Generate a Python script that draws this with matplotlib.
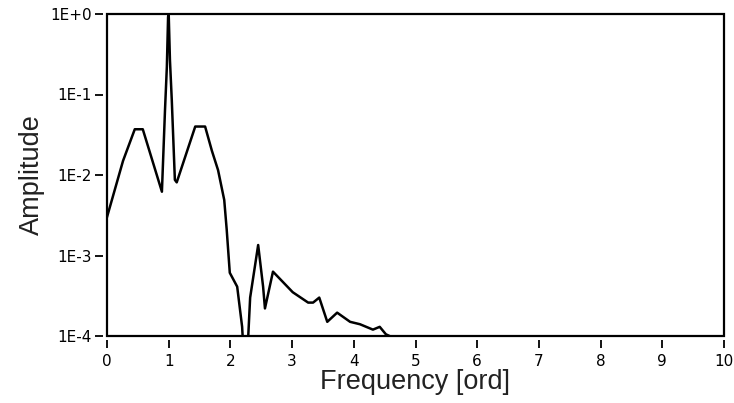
import numpy as np
import matplotlib.pyplot as plt
from matplotlib.ticker import FixedLocator, FixedFormatter, NullLocator

# spectrum (values below 1E-4 are clipped by the axis)
freq = [0.0, 0.26, 0.45, 0.58, 0.89, 0.94, 0.97, 0.99, 1.0, 1.02, 1.05, 1.10, 1.13,
        1.43, 1.59, 1.70, 1.80, 1.90, 1.94, 1.99, 2.11, 2.19, 2.22, 2.27, 2.32,
        2.45, 2.53, 2.56, 2.69, 3.01, 3.26, 3.34, 3.44, 3.57, 3.73, 3.94, 4.10,
        4.31, 4.42, 4.52, 4.64, 4.72]
amp = [3.0e-3, 1.5e-2, 3.7e-2, 3.7e-2, 6.2e-3, 6.4e-2, 2.2e-1, 9.2e-1, 1.0, 2.7e-1,
       8.5e-2, 8.7e-3, 8.1e-3, 4.0e-2, 4.0e-2, 2.0e-2, 1.15e-2, 4.9e-3, 2.1e-3,
       6.1e-4, 4.1e-4, 1.3e-4, 5e-5, 5e-5, 3.0e-4, 1.35e-3, 4.1e-4, 2.2e-4, 6.3e-4,
       3.5e-4, 2.6e-4, 2.6e-4, 3.0e-4, 1.5e-4, 1.95e-4, 1.5e-4, 1.4e-4, 1.2e-4,
       1.3e-4, 1.05e-4, 9.5e-5, 5e-5]

yticks = [1e-4, 1e-3, 1e-2, 1e-1, 1e0]
ylabels = ['1E-4', '1E-3', '1E-2', '1E-1', '1E+0']
xticks = list(range(0, 11))

fig = plt.figure(figsize=(7.34, 4.03), dpi=100)
ax = fig.add_axes([107/734, 1 - 336/403, (724 - 107)/734, (336 - 14)/403])

ax.plot(freq, amp, color='black', lw=1.8)
ax.set_yscale('log')
ax.set_xlim(0, 10)
ax.set_ylim(1e-4, 1)

ax.yaxis.set_major_locator(FixedLocator(yticks))
ax.yaxis.set_major_formatter(FixedFormatter(ylabels))
ax.yaxis.set_minor_locator(NullLocator())
ax.set_xticks(xticks)

# frame drawn by the patch, spines pushed out so ticks leave a small gap
ax.patch.set_edgecolor('black')
ax.patch.set_linewidth(1.6)
for s in ['top', 'right']:
    ax.spines[s].set_visible(False)
for s in ['left', 'bottom']:
    ax.spines[s].set_position(('outward', 3))
    ax.spines[s].set_visible(False)

ax.tick_params(direction='out', length=6, width=1.3, labelsize=11, color='black')
ax.tick_params(axis='x', pad=4)
ax.tick_params(axis='y', pad=2)

ax.set_xlabel('Frequency [ord]', fontsize=19.5, family='Liberation Sans', color='#222222', labelpad=0)
ax.set_ylabel('Amplitude', fontsize=19.5, family='Liberation Sans', color='#222222', labelpad=4)

fig.savefig('out.png', dpi=100)
